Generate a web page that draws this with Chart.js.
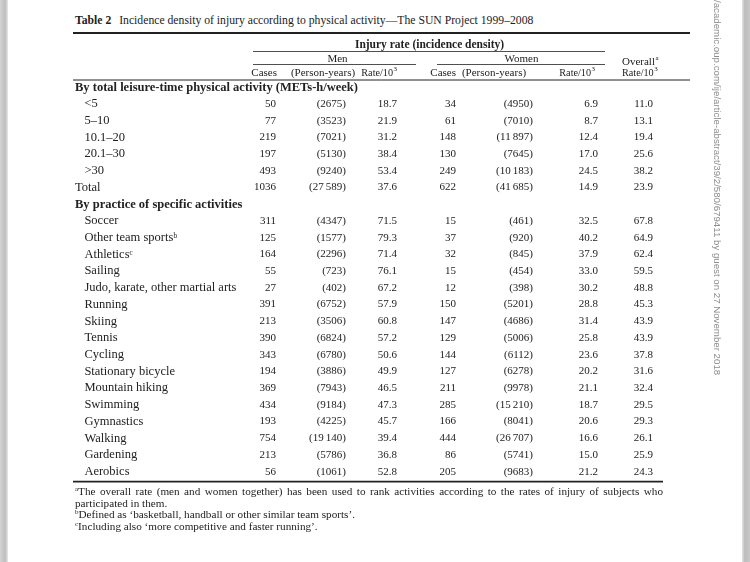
<!DOCTYPE html>
<html>
<head>
<meta charset="utf-8">
<script src="https://cdn.jsdelivr.net/npm/chart.js@4.4.0/dist/chart.umd.min.js"></script>
<style>
html, body { margin: 0; padding: 0; width: 750px; height: 562px; overflow: hidden; background: #fff; }
body { position: relative; font-family: "Liberation Serif", "DejaVu Serif", serif; color: #222; }
#edgeL { position: absolute; left: 0; top: 0; width: 8px; height: 562px; background: linear-gradient(to right, #d4d4d4, #bebebe 65%, #e8e8e8); }
#edgeR { position: absolute; left: 742px; top: 0; width: 8px; height: 562px; background: linear-gradient(to right, #e6e6e6, #bcbcbc 35%, #c9c9c9); }
#table { position: absolute; left: 0; top: 0; }
#title { position: absolute; left: 75px; top: 14px; font-size: 11.7px; white-space: nowrap; }
#title b { margin-right: 5px; }
#notes { position: absolute; left: 75px; top: 486px; width: 588px; font-size: 11.2px; line-height: 11.7px; }
#notes div { white-space: nowrap; }
#notes .just { text-align: justify; text-align-last: justify; white-space: normal; }
#notes sup { font-size: 7px; vertical-align: 4px; line-height: 0; }
#wm { position: absolute; left: 712px; top: 0; writing-mode: vertical-rl; font: 9.7px "Liberation Sans", sans-serif; color: #8c8c8c; white-space: nowrap; }
</style>
</head>
<body>
<div id="edgeL"></div>
<div id="edgeR"></div>
<div id="title"><b>Table 2</b> Incidence density of injury according to physical activity—The SUN Project 1999–2008</div>
<canvas id="table" width="750" height="562"></canvas>
<div id="notes">
  <div class="just"><sup>a</sup>The overall rate (men and women together) has been used to rank activities according to the rates of injury of subjects who</div>
  <div>participated in them.</div>
  <div><sup>b</sup>Defined as ‘basketball, handball or other similar team sports’.</div>
  <div><sup>c</sup>Including also ‘more competitive and faster running’.</div>
</div>
<div id="wm">/academic.oup.com/ije/article-abstract/39/2/580/679411 by guest on 27 November 2018</div>
<script>
// row groups
const sectionTitles = ['By total leisure-time physical activity (METs-h/week)', 'By practice of specific activities'];
const metsGroups = ['<5', '5–10', '10.1–20', '20.1–30', '>30', 'Total'];
const activities = ['Soccer', 'Other team sportsᵇ', 'Athleticsᶜ', 'Sailing', 'Judo, karate, other martial arts',
    'Running', 'Skiing', 'Tennis', 'Cycling', 'Stationary bicycle', 'Mountain hiking', 'Swimming',
    'Gymnastics', 'Walking', 'Gardening', 'Aerobics'];

// values: metsGroups first, then activities
const menCases = [50, 77, 219, 197, 493, 1036,
    311, 125, 164, 55, 27, 391, 213, 390, 343, 194, 369, 434, 193, 754, 213, 56];
const menPersonYears = [2675, 3523, 7021, 5130, 9240, 27589,
    4347, 1577, 2296, 723, 402, 6752, 3506, 6824, 6780, 3886, 7943, 9184, 4225, 19140, 5786, 1061];
const menRate = [18.7, 21.9, 31.2, 38.4, 53.4, 37.6,
    71.5, 79.3, 71.4, 76.1, 67.2, 57.9, 60.8, 57.2, 50.6, 49.9, 46.5, 47.3, 45.7, 39.4, 36.8, 52.8];
const womenCases = [34, 61, 148, 130, 249, 622,
    15, 37, 32, 15, 12, 150, 147, 129, 144, 127, 211, 285, 166, 444, 86, 205];
const womenPersonYears = [4950, 7010, 11897, 7645, 10183, 41685,
    461, 920, 845, 454, 398, 5201, 4686, 5006, 6112, 6278, 9978, 15210, 8041, 26707, 5741, 9683];
const womenRate = [6.9, 8.7, 12.4, 17.0, 24.5, 14.9,
    32.5, 40.2, 37.9, 33.0, 30.2, 28.8, 31.4, 25.8, 23.6, 20.2, 21.1, 18.7, 20.6, 16.6, 15.0, 21.2];
const overallRate = [11.0, 13.1, 19.4, 25.6, 38.2, 23.9,
    67.8, 64.9, 62.4, 59.5, 48.8, 45.3, 43.9, 43.9, 37.8, 31.6, 32.4, 29.5, 29.3, 26.1, 25.9, 24.3];

const ink = '#222';
const serif = '"Liberation Serif", "DejaVu Serif", serif';

const rowLabels = [sectionTitles[0], ...metsGroups, sectionTitles[1], ...activities];
const valueLabels = [...metsGroups, ...activities];
const headingRows = [0, 7];
const flushRows = [0, 6, 7];

const fmtCount = n => String(n);
const fmtYears = n => '(' + (n >= 10000 ? String(n).replace(/(\d{3})$/, '\u2009$1') : String(n)) + ')';
const fmtRate = n => n.toFixed(1);

// column anchor = right edge, in table units (0 = left rule)
const columns = [
    { values: menCases, x: 203, fmt: fmtCount },
    { values: menPersonYears, x: 273, fmt: fmtYears },
    { values: menRate, x: 324, fmt: fmtRate },
    { values: womenCases, x: 383, fmt: fmtCount },
    { values: womenPersonYears, x: 460, fmt: fmtYears },
    { values: womenRate, x: 525, fmt: fmtRate },
    { values: overallRate, x: 580, fmt: fmtRate }
];

const datasets = columns.map(col => ({
    data: col.values.map((v, i) => ({ x: col.x, y: valueLabels[i], text: col.fmt(v) })),
    pointRadius: 0,
    clip: false
}));

function drawText(ctx, s, x, y, align, font, sup) {
    ctx.font = font;
    const w = ctx.measureText(s).width;
    let supW = 0;
    const supFont = font.replace(/(\d+(\.\d+)?)px/, '7px');
    if (sup) {
        ctx.font = supFont;
        supW = ctx.measureText(sup).width + 0.5;
    }
    const total = w + supW;
    let left = x;
    if (align === 'right') left = x - total;
    if (align === 'center') left = x - total / 2;
    ctx.textAlign = 'left';
    ctx.textBaseline = 'middle';
    ctx.font = font;
    ctx.fillText(s, left, y);
    if (sup) {
        ctx.font = supFont;
        ctx.fillText(sup, left + w + 0.5, y - 4);
    }
}

function rule(ctx, x1, x2, y, lw) {
    ctx.beginPath();
    ctx.lineWidth = lw;
    ctx.moveTo(x1, y);
    ctx.lineTo(x2, y);
    ctx.stroke();
}

const tablePlugin = {
    id: 'tableText',
    afterDatasetsDraw(chart) {
        const ctx = chart.ctx;
        const xs = chart.scales.x;
        const area = chart.chartArea;
        const X = u => xs.getPixelForValue(u);
        const top = area.top;
        const body = '11px ' + serif;
        const rate = '10.2px ' + serif;
        ctx.save();
        ctx.fillStyle = ink;
        ctx.strokeStyle = ink;

        // cell values
        chart.data.datasets.forEach((ds, i) => {
            const meta = chart.getDatasetMeta(i);
            meta.data.forEach((pt, j) => {
                drawText(ctx, ds.data[j].text, pt.x, pt.y, 'right', body);
            });
        });

        // header
        drawText(ctx, 'Injury rate (incidence density)', X(356.5), top - 34, 'center', 'bold 11.5px ' + serif);
        drawText(ctx, 'Men', X(264.5), top - 20, 'center', body);
        drawText(ctx, 'Women', X(448.5), top - 20, 'center', body);
        drawText(ctx, 'Overall', X(549), top - 17, 'left', body, 'a');
        const sub = top - 6;
        drawText(ctx, 'Cases', X(204), sub, 'right', body);
        drawText(ctx, '(Person-years)', X(250), sub, 'center', body);
        drawText(ctx, 'Rate/10', X(324), sub, 'right', rate, '3');
        drawText(ctx, 'Cases', X(383), sub, 'right', body);
        drawText(ctx, '(Person-years)', X(421), sub, 'center', body);
        drawText(ctx, 'Rate/10', X(522), sub, 'right', rate, '3');
        drawText(ctx, 'Rate/10', X(549), sub, 'left', rate, '3');

        // rules
        rule(ctx, area.left, area.right, top - 46, 1.8);
        rule(ctx, X(180), X(532), top - 27.5, 0.8);
        rule(ctx, X(180), X(343), top - 14.5, 0.8);
        rule(ctx, X(364), X(532), top - 14.5, 0.8);
        rule(ctx, area.left, area.right, top + 1, 1);
        rule(ctx, area.left, X(590), area.bottom + 1.6, 1.8);
        ctx.restore();
    }
};

new Chart(document.getElementById('table'), {
    type: 'scatter',
    data: { datasets: datasets },
    options: {
        responsive: false,
        animation: false,
        events: [],
        layout: { padding: { left: 69, right: 60, top: 79, bottom: 82 } },
        plugins: {
            legend: { display: false },
            tooltip: { enabled: false }
        },
        scales: {
            x: { type: 'linear', min: 0, max: 617, display: false },
            y: {
                type: 'category',
                labels: rowLabels,
                offset: true,
                grid: { display: false, drawTicks: false },
                border: { display: false },
                ticks: {
                    mirror: true,
                    padding: 2,
                    autoSkip: false,
                    color: ink,
                    font: c => ({ family: serif, size: 12.5,
                        weight: headingRows.includes(c.index) ? 'bold' : 'normal' }),
                    callback: (v, i) => flushRows.includes(i) ? rowLabels[i] : '\u2002\u2005' + rowLabels[i]
                }
            }
        }
    },
    plugins: [tablePlugin]
});
</script>
</body>
</html>
